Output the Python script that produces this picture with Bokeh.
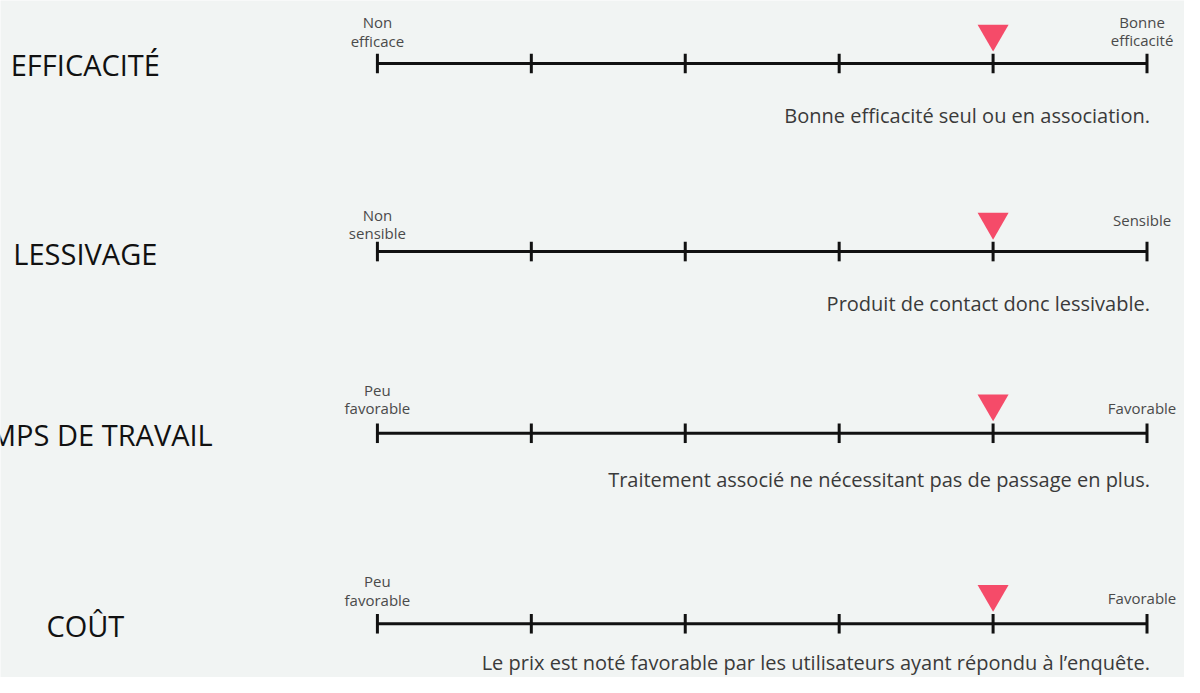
from bokeh.plotting import figure
from bokeh.models import Range1d
from bokeh.core.properties import value
from bokeh.embed import file_html
from bokeh.resources import INLINE

# ---------------- data ----------------
criteria = ["EFFICACITÉ", "LESSIVAGE", "TEMPS DE TRAVAIL", "COÛT"]
scores = [4, 4, 4, 4]
scale_ticks = [0, 1, 2, 3, 4, 5]
low_labels = [["Non", "efficace"], ["Non", "sensible"], ["Peu", "favorable"], ["Peu", "favorable"]]
high_labels = [["Bonne", "efficacité"], ["Sensible"], ["Favorable"], ["Favorable"]]
comments = [
    "Bonne efficacité seul ou en association.",
    "Produit de contact donc lessivable.",
    "Traitement associé ne nécessitant pas de passage en plus.",
    "Le prix est noté favorable par les utilisateurs ayant répondu à l\u2019enquête.",
]

# ---------------- layout (in reference-page pixels) ----------------
W, H = 1184, 677
REF_W, REF_H = 1200, 693
SX = W / REF_W
SCALE_X0_PX, UNIT_PX = 382, 156          # pixel of scale 0, pixels per scale unit
ROW_Y = [64.5, 257, 443, 638]            # rows (y grows downwards)
LOW_BASE = [41, 238.5, 417.5, 613.3]
HIGH_BASE = [40.7, 224.3, 417.3, 611.7]
COMMENT_BASE = [117.7, 310, 490, 678]
LINE_GAP = 19
FONT = value("Open Sans")
BG = "#f1f4f3"
RED = "#f54b69"

x_start = (0 - SCALE_X0_PX) / UNIT_PX
x_end = (REF_W - SCALE_X0_PX) / UNIT_PX

p = figure(width=W, height=H, output_backend="svg", toolbar_location=None,
           x_range=Range1d(x_start, x_end), y_range=Range1d(REF_H, 0),
           x_axis_type=None, y_axis_type=None,
           min_border=0, min_border_left=0, min_border_right=0,
           min_border_top=0, min_border_bottom=0)
p.grid.visible = False
p.outline_line_color = None
p.background_fill_color = BG
p.border_fill_color = BG

lo, hi = scale_ticks[0], scale_ticks[-1]

# main lines
p.segment(x0=[lo] * len(criteria), x1=[hi] * len(criteria), y0=ROW_Y, y1=ROW_Y,
          line_color="#111111", line_width=3)

# ticks
tx, ty0, ty1 = [], [], []
for ry in ROW_Y:
    for t in scale_ticks:
        tx.append(t)
        ty0.append(ry - 10)
        ty1.append(ry + 10)
p.segment(x0=tx, x1=tx, y0=ty0, y1=ty1, line_color="#111111", line_width=3)

# markers
p.scatter(x=scores, y=[ry - 30.5 for ry in ROW_Y], marker="inverted_triangle",
          size=31, fill_color=RED, line_color=None)

# criterion names
p.text(x=[lo] * len(criteria), y=[ry + 1.5 for ry in ROW_Y], text=criteria,
       x_offset=(86 - SCALE_X0_PX) * SX, text_align="center", text_baseline="alphabetic",
       text_font=FONT, text_font_size="29px", text_color="#111111")

# end labels
lx, ly, lt = [], [], []
for i, lines in enumerate(low_labels):
    n = len(lines)
    for j, s in enumerate(lines):
        lx.append(lo)
        ly.append(LOW_BASE[i] - (n - 1 - j) * LINE_GAP)
        lt.append(s)
p.text(x=lx, y=ly, text=lt, text_align="center", text_baseline="alphabetic",
       text_font=FONT, text_font_size="15px", text_color="#4a4a4a")

hx, hy, ht = [], [], []
for i, lines in enumerate(high_labels):
    n = len(lines)
    for j, s in enumerate(lines):
        hx.append(hi)
        hy.append(HIGH_BASE[i] - (n - 1 - j) * LINE_GAP)
        ht.append(s)
p.text(x=hx, y=hy, text=ht, x_offset=-5 * SX, text_align="center", text_baseline="alphabetic",
       text_font=FONT, text_font_size="15px", text_color="#4a4a4a")

# comments
p.text(x=[hi] * len(comments), y=COMMENT_BASE, text=comments, x_offset=3 * SX,
       text_align="right", text_baseline="alphabetic",
       text_font=FONT, text_font_size="20px", text_color="#3a3a3a")

open("out.html", "w").write(file_html(p, INLINE))
